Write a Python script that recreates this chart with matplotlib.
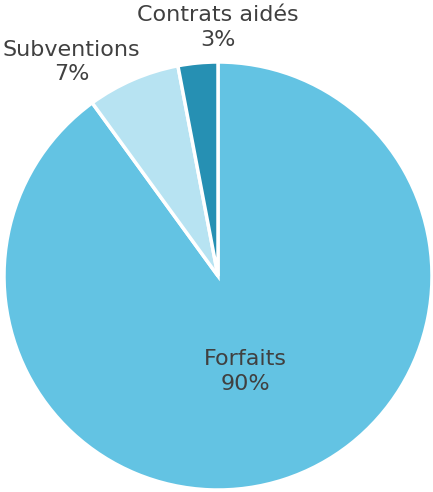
import matplotlib.pyplot as plt

categories = ['Forfaits', 'Subventions', 'Contrats aidés']
values = [90, 7, 3]
colors = ['#63C3E3', '#B7E3F2', '#2690B3']

fig = plt.figure(figsize=(4.33, 4.92), dpi=100)
ax = fig.add_axes([0, 0, 1, 1])

ax.pie(values, colors=colors, startangle=90, counterclock=False,
       radius=1.0, wedgeprops=dict(edgecolor='white', linewidth=2.5))

# pixel layout: centre at (218, 276), radius 214 px
ax.set_xlim(-218 / 214, (433 - 218) / 214)
ax.set_ylim((276 - 492) / 214, 276 / 214)
ax.set_aspect('auto')
ax.axis('off')

txt = dict(ha='center', va='center', fontsize=16, color='#404040',
           linespacing=1.3, family='DejaVu Sans')
label_pos = [(0.126, -0.445), (-0.685, 1.0), (0.0, 1.16)]
for cat, val, (x, y) in zip(categories, values, label_pos):
    ax.text(x, y, f'{cat}\n{val}%', **txt)

fig.savefig('out.png', dpi=100)
